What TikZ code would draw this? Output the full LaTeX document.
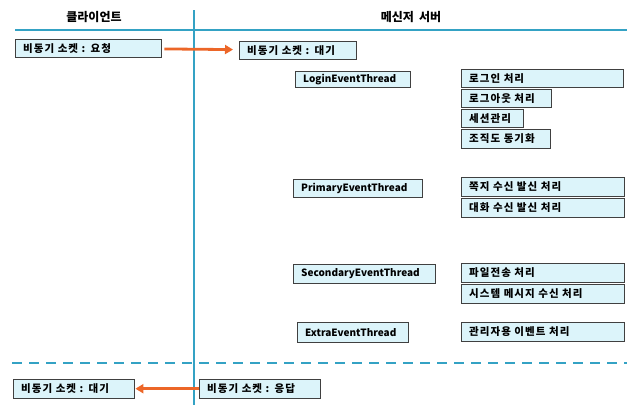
\documentclass[tikz,border=0pt]{standalone}
\usepackage{fontspec}
\setmainfont{Noto Sans CJK KR}
\newfontfamily\krfont[LetterSpace=10]{Noto Sans CJK KR}
\newcommand\boxfont{\krfont\bfseries\fontsize{10.5}{12}\selectfont\fontdimen2\font=7pt\relax\spaceskip=7pt plus 1pt\relax}
\newcommand\headfont{\bfseries\fontsize{12}{14}\selectfont\spaceskip=5pt\relax}
\usetikzlibrary{arrows.meta,shadows}
\definecolor{boxfill}{RGB}{220,244,250}
\definecolor{lanecol}{RGB}{52,162,196}
\definecolor{msgcol}{RGB}{236,102,40}
\begin{document}
\begin{tikzpicture}[x=1pt, y=-1pt,
    sbox/.style={rectangle, draw=black!75, fill=boxfill, anchor=north west,
        drop shadow={shadow xshift=0.9pt, shadow yshift=-0.9pt, opacity=0.8, fill=black!70},
        inner xsep=8pt, inner ysep=0pt, text width=#1-16pt, minimum height=18pt,
        align=left, font=\boxfont},
    tbox/.style={sbox=#1, font=\bfseries\fontsize{10}{12}\selectfont},
    lane/.style={lanecol, line width=2pt},
    msg/.style={msgcol, line width=2.8pt, -{Triangle[length=8pt, width=9pt]}},
    head/.style={font=\headfont}]
    \useasboundingbox (0,0) rectangle (627,405);
    % Lanes
    \coordinate (laneTop) at (194,10);
    \coordinate (laneBot) at (194,405);
    \coordinate (headL) at (15,30);
    \coordinate (headR) at (627,30);
    \coordinate (dashL) at (12,363);
    \coordinate (dashR) at (627,363);
    \draw[lane, line width=2.5pt] (laneTop) -- (laneBot);
    \draw[lane] (headL) -- (headR);
    \draw[lane, dash pattern=on 10pt off 7pt] (dashL) -- (dashR);
    \node (clientHead) [head] at (94,17) {클라이언트};
    \node (serverHead) [head] at (411,17) {메신저 서버};

    % Request
    \node (cliReq) [sbox=146pt] at (15,39) {비동기 소켓 : 요청};
    \node (srvWait) [sbox=117pt] at (239,41) {비동기 소켓 : 대기};
    \draw[msg, shorten <=3pt, shorten >=6pt] (cliReq) -- (srvWait);

    % Login Event Thread
    \node (login) [tbox=115pt, minimum height=16pt] at (295,71) {LoginEventThread};
    \node (login1) [sbox=162pt] at (461,69) {로그인 처리};
    \node (login2) [sbox=90pt] at (461,89) {로그아웃 처리};
    \node (login3) [sbox=62pt] at (461,109) {세션관리};
    \node (login4) [sbox=89pt, minimum height=19pt] at (461,129) {조직도 동기화};

    % Primary Event Thread
    \node (prim) [tbox=129pt] at (293,179) {PrimaryEventThread};
    \node (prim1) [sbox=163pt, minimum height=19pt] at (461,177) {쪽지 수신 발신 처리};
    \node (prim2) [sbox=163pt, minimum height=19pt] at (461,198) {대화 수신 발신 처리};

    % Secondary Event Thread
    \node (sec) [tbox=142pt, minimum height=19pt] at (293,264) {SecondaryEventThread};
    \node (sec1) [sbox=163pt, minimum height=19pt] at (461,263) {파일전송 처리};
    \node (sec2) [sbox=163pt, minimum height=19pt] at (461,284) {시스템 메시지 수신 처리};

    % Extra Event Thread
    \node (extra) [tbox=111pt, minimum height=20pt] at (297,322) {ExtraEventThread};
    \node (extra1) [sbox=163pt, minimum height=19pt] at (461,322) {관리자용 이벤트 처리};

    % Response
    \node (cliWait) [sbox=121pt, minimum height=19pt] at (13,379) {비동기 소켓 : 대기};
    \node (srvResp) [sbox=121pt, minimum height=19pt] at (199,379) {비동기 소켓 : 응답};
    \draw[msg, shorten >=1pt] (srvResp) -- (cliWait);
\end{tikzpicture}
\end{document}
